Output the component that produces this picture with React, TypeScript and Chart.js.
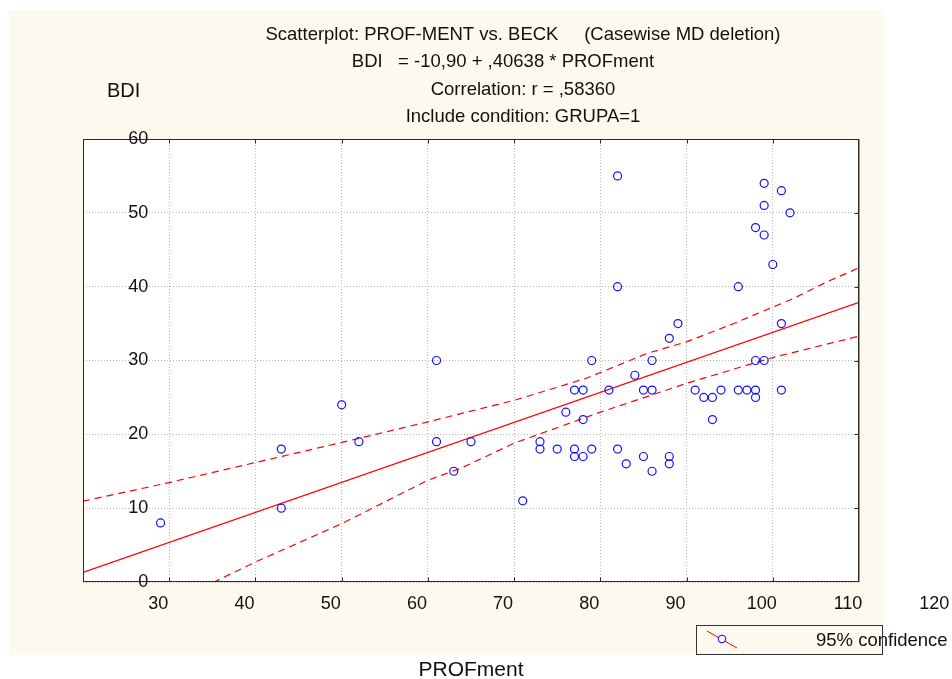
import React, { useEffect, useRef } from "react";
import { Chart, registerables } from "chart.js";

Chart.register(...registerables);

// ---- text ----
const titleLines = [
  "Scatterplot: PROF-MENT vs. BECK     (Casewise MD deletion)",
  "BDI   = -10,90 + ,40638 * PROFment",
  "Correlation: r = ,58360",
  "Include condition: GRUPA=1",
];
const xAxisTitle = "PROFment";
const yAxisTitle = "BDI";
const legendLabel = "95% confidence";
const xTickLabels = [30, 40, 50, 60, 70, 80, 90, 100, 110, 120];
const yTickLabels = [0, 10, 20, 30, 40, 50, 60];

// ---- data (PROFment, BDI) ----
const profment = [
  39, 53, 53, 60, 62, 71, 71, 73, 92, 92, 109, 111, 109, 112, 108, 109, 110, 106, 111, 99,
  98, 89, 96, 108, 109, 94, 87, 88, 91, 95, 96, 101, 102, 103, 104, 106, 107, 108, 108, 111,
  103, 86, 88, 75, 83, 83, 85, 87, 87, 88, 89, 92, 93, 95, 96, 98, 98, 81,
];
const bdi = [
  8, 18, 10, 24, 19, 30, 19, 15, 55, 40, 54, 53, 51, 50, 48, 47, 43, 40, 35, 35,
  33, 30, 30, 30, 30, 28, 26, 26, 26, 26, 26, 26, 25, 25, 26, 26, 26, 26, 25, 26,
  22, 23, 22, 19, 19, 18, 18, 18, 17, 17, 18, 18, 16, 17, 15, 17, 16, 11,
];

// regression line end points
const fitX = [30, 120];
const fitY = [1.29, 37.87];

// 95% confidence band
const upperX = [30, 40, 50, 60, 70, 73.8, 80, 88.3, 95.4, 100, 105.5, 112.4, 116.3, 120];
const upperY = [10.94, 13.47, 16.18, 18.9, 21.69, 22.8, 24.6, 27.56, 30.95, 32.53, 35.02, 38.4, 40.66, 42.56];
const lowerX = [30, 40, 45.2, 50, 60, 70, 73.8, 80, 90, 100, 107, 110, 120];
const lowerY = [-8.4, -2.8, 0, 2.71, 7.9, 13.78, 15.4, 18.8, 23.0, 26.9, 29.37, 30.4, 33.3];

const FONT = "'Liberation Sans', Arial, sans-serif";
const CREAM = "#fef9ee";
const titleCenters = [523, 503, 523, 523];

const zip = (xs: number[], ys: number[]) => xs.map((x, i) => ({ x, y: ys[i] }));

const decorPlugin = {
  id: "decor",
  beforeDraw(chart: any) {
    const { ctx, chartArea } = chart;
    ctx.save();
    ctx.fillStyle = "#ffffff";
    ctx.fillRect(0, 0, chart.width, chart.height);
    ctx.fillStyle = CREAM;
    ctx.fillRect(9, 10, 874, 645);
    ctx.fillStyle = "#ffffff";
    ctx.fillRect(chartArea.left, chartArea.top, chartArea.right - chartArea.left, chartArea.bottom - chartArea.top);
    ctx.restore();
  },
  afterDraw(chart: any) {
    const { ctx, chartArea, scales } = chart;
    const xs = scales.x;
    const ys = scales.y;
    const L = Math.round(chartArea.left) + 0.5;
    const R = Math.round(chartArea.right) - 0.5;
    const T = Math.round(chartArea.top) + 0.5;
    const B = Math.round(chartArea.bottom) - 0.5;
    ctx.save();
    // frame
    ctx.strokeStyle = "#2a2a2a";
    ctx.lineWidth = 1;
    ctx.setLineDash([]);
    ctx.strokeRect(L, T, R - L, B - T);
    ctx.strokeStyle = "#9a9a9a";
    ctx.beginPath();
    ctx.moveTo(R + 1, T);
    ctx.lineTo(R + 1, B + 1);
    ctx.stroke();
    // inward tick marks
    ctx.strokeStyle = "#2a2a2a";
    ctx.beginPath();
    for (let v = 40; v <= 110; v += 10) {
      const px = Math.round(xs.getPixelForValue(v)) + 0.5;
      ctx.moveTo(px, T);
      ctx.lineTo(px, T + 4);
      ctx.moveTo(px, B);
      ctx.lineTo(px, B - 4);
    }
    for (let v = 10; v <= 50; v += 10) {
      const py = Math.round(ys.getPixelForValue(v)) + 0.5;
      ctx.moveTo(R, py);
      ctx.lineTo(R - 4, py);
    }
    ctx.stroke();

    // tick labels
    ctx.fillStyle = "#111";
    ctx.font = `18px ${FONT}`;
    ctx.textBaseline = "middle";
    ctx.textAlign = "right";
    const yLabelRight = xs.getPixelForValue(40) - 21;
    yTickLabels.forEach((v) => {
      ctx.fillText(String(v), yLabelRight, ys.getPixelForValue(v));
    });
    ctx.textAlign = "center";
    const step = xs.getPixelForValue(40) - xs.getPixelForValue(30);
    xTickLabels.forEach((v) => {
      ctx.fillText(String(v), xs.getPixelForValue(v) + step - 11, chartArea.bottom + 22);
    });

    // titles
    ctx.font = `18.5px ${FONT}`;
    ctx.textAlign = "center";
    titleLines.forEach((t, i) => {
      ctx.fillText(t, titleCenters[i], 35 + i * 27.3);
    });

    // axis titles
    ctx.font = `20px ${FONT}`;
    ctx.textAlign = "left";
    ctx.fillText(yAxisTitle, 107, 91);
    ctx.font = `21px ${FONT}`;
    ctx.textAlign = "center";
    ctx.fillText(xAxisTitle, (chartArea.left + chartArea.right) / 2, 670);

    // legend
    ctx.strokeStyle = "#333";
    ctx.lineWidth = 1;
    ctx.strokeRect(696.5, 625.5, 186, 29);
    ctx.strokeStyle = "#ff0000";
    ctx.beginPath();
    ctx.moveTo(707, 631);
    ctx.lineTo(737, 648);
    ctx.stroke();
    ctx.strokeStyle = "#0000ff";
    ctx.fillStyle = CREAM;
    ctx.beginPath();
    ctx.arc(722, 639, 3.8, 0, Math.PI * 2);
    ctx.fill();
    ctx.stroke();
    ctx.fillStyle = "#111";
    ctx.font = `18.5px ${FONT}`;
    ctx.textAlign = "left";
    ctx.fillText(legendLabel, 816, 641);
    ctx.restore();
  },
};

export default function App() {
  const ref = useRef<HTMLCanvasElement | null>(null);
  useEffect(() => {
    if (!ref.current) return;
    const chart = new Chart(ref.current, {
      type: "scatter",
      data: {
        datasets: [
          {
            label: "points",
            data: zip(profment, bdi),
            showLine: false,
            pointRadius: 4,
            pointBorderWidth: 1.2,
            pointBorderColor: "#1010ff",
            pointBackgroundColor: "rgba(0,0,0,0)",
            order: 0,
          },
          {
            label: "fit",
            data: zip(fitX, fitY),
            showLine: true,
            pointRadius: 0,
            borderColor: "#ff0000",
            borderWidth: 1.2,
            order: 1,
          },
          {
            label: "upper",
            data: zip(upperX, upperY),
            showLine: true,
            pointRadius: 0,
            borderColor: "#ff0000",
            borderWidth: 1.2,
            borderDash: [7, 5],
            order: 2,
          },
          {
            label: "lower",
            data: zip(lowerX, lowerY),
            showLine: true,
            pointRadius: 0,
            borderColor: "#ff0000",
            borderWidth: 1.2,
            borderDash: [7, 5],
            order: 3,
          },
        ],
      },
      options: {
        responsive: false,
        animation: false,
        devicePixelRatio: 1,
        layout: { padding: { left: 83, top: 139, right: 93, bottom: 97 } },
        plugins: {
          legend: { display: false },
          tooltip: { enabled: false },
          title: { display: false },
        },
        scales: {
          x: {
            type: "linear",
            min: 30,
            max: 120,
            ticks: { display: false, stepSize: 10 },
            grid: { color: "#b8b8b8", lineWidth: 1, drawTicks: false },
            border: { display: false, dash: [1, 2] },
          },
          y: {
            type: "linear",
            min: 0,
            max: 60,
            ticks: { display: false, stepSize: 10 },
            grid: { color: "#b8b8b8", lineWidth: 1, drawTicks: false },
            border: { display: false, dash: [1, 2] },
          },
        },
      },
      plugins: [decorPlugin],
    });
    return () => chart.destroy();
  }, []);
  return (
    <div style={{ position: "absolute", left: 0, top: 0, width: 952, height: 679 }}>
      <canvas ref={ref} width={952} height={679} style={{ display: "block" }} />
    </div>
  );
}
